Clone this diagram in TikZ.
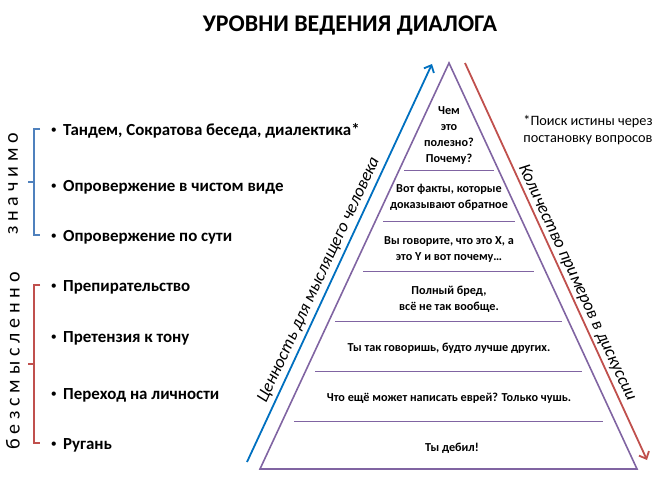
\documentclass[tikz,border=0pt]{standalone}
\usepackage{fontspec}
\setmainfont{Carlito}
\usetikzlibrary{positioning,calc,arrows.meta}
\definecolor{pyramidPurple}{RGB}{128,100,162}
\definecolor{valueBlue}{RGB}{0,112,192}
\definecolor{countRed}{RGB}{192,80,77}
\definecolor{braceBlue}{RGB}{79,129,189}
\tikzset{
	dialog levels/.style={
		x=1pt,y=-1pt,
		level text/.style={
			align=center,
			inner sep=0pt,
			font=\fontsize{12.2}{15.8}\selectfont\bfseries
		},
		level line/.style={pyramidPurple,line width=1pt},
		pyramid edge/.style={pyramidPurple,line width=1.6pt,line join=miter},
		axis arrow/.style={
			line width=1.8pt,
			-{Straight Barb[length=6pt,width=11pt]}
		},
		axis name/.style={
			inner sep=0pt,
			font=\fontsize{17.5}{20}\selectfont\itshape
		}
	},
	list item/.style={
		anchor=west,
		inner sep=0pt,
		font=\fontsize{16.9}{20}\selectfont\bfseries
	},
	list bullet/.style={
		inner sep=0pt,
		font=\fontsize{12}{14}\selectfont
	},
	group brace/.style={line width=1.4pt},
	group name/.style={
		rotate=90,
		inner sep=0pt,
		font=\fontsize{20}{22}\selectfont\addfontfeature{LetterSpace=24}
	}
}
\begin{document}
\begin{tikzpicture}[dialog levels]
	\useasboundingbox (0,0) rectangle (659,492);
	\node[font=\fontsize{23.9}{28}\selectfont\bfseries] (title) at (350,25) {УРОВНИ ВЕДЕНИЯ ДИАЛОГА};
	% pyramid
	\coordinate (apex) at (449,63);
	\coordinate (base left) at (260,469);
	\coordinate (base right) at (637,469);
	\draw[pyramid edge] (apex) -- (base left) -- (base right) -- cycle;
	\draw[level line] (404,171) -- (494,171);
	\draw[level line] (383,221) -- (515,221);
	\draw[level line] (363,271) -- (534,271);
	\draw[level line] (335,321) -- (562,321);
	\draw[level line] (315,371) -- (582,371);
	\draw[level line] (294,421) -- (603,421);
	\node[level text] (level 1) at (449,135.5) {Чем\\это\\полезно?\\Почему?};
	\node[level text] (level 2) at (449,197.5) {Вот факты, которые\\доказывают обратное};
	\node[level text] (level 3) at (449,249.5) {Вы говорите, что это X, а\\это Y и вот почему…};
	\node[level text] (level 4) at (449,299) {Полный бред,\\всё не так вообще.};
	\node[level text] (level 5) at (449,348) {Ты так говоришь, будто лучше других.};
	\node[level text] (level 6) at (449,398) {Что ещё может написать еврей? Только чушь.};
	\node[level text] (level 7) at (452,448) {Ты дебил!};
	% arrows along the sides
	\coordinate (value start) at (247,462);
	\coordinate (value end) at (432,64);
	\coordinate (count start) at (465,63);
	\coordinate (count end) at (647,460);
	\draw[axis arrow,valueBlue] (value start) -- (value end);
	\draw[axis arrow,countRed] (count start) -- (count end);
	\node[axis name,rotate=65] (value name) at (319,280) {Ценность для мыслящего человека};
	\node[axis name,rotate=-65] (count name) at (577,283) {Количество примеров в дискуссии};
	\node[align=center,inner sep=0pt,font=\fontsize{14.3}{17}\selectfont] (note) at (588,130.5) {*Поиск истины через\\постановку вопросов};
	% list of levels
	\node[list item] (item 1) at (63,131) {Тандем, Сократова беседа, диалектика*};
	\node[list item] (item 2) at (63,187) {Опровержение в чистом виде};
	\node[list item] (item 3) at (63,237) {Опровержение по сути};
	\node[list item] (item 4) at (63,287) {Препирательство};
	\node[list item] (item 5) at (63,338) {Претензия к тону};
	\node[list item] (item 6) at (63,395) {Переход на личности};
	\node[list item] (item 7) at (63,445) {Ругань};
	\node[list bullet,left=6pt of item 1] {•};
	\node[list bullet,left=6pt of item 2] {•};
	\node[list bullet,left=6pt of item 3] {•};
	\node[list bullet,left=6pt of item 4] {•};
	\node[list bullet,left=6pt of item 5] {•};
	\node[list bullet,left=6pt of item 6] {•};
	\node[list bullet,left=6pt of item 7] {•};
	% brackets
	\draw[group brace,braceBlue] (40,129) -- (34,129) -- (34,235) -- (40,235);
	\draw[group brace,braceBlue] (34,182) -- (28,182);
	\draw[group brace,countRed] (40,285) -- (34,285) -- (34,443) -- (40,443);
	\draw[group brace,countRed] (34,364) -- (28,364);
	\node[group name] (meaningful) at (13,184) {значимо};
	\node[group name] (meaningless) at (13,361) {безсмысленно};
\end{tikzpicture}
\end{document}
